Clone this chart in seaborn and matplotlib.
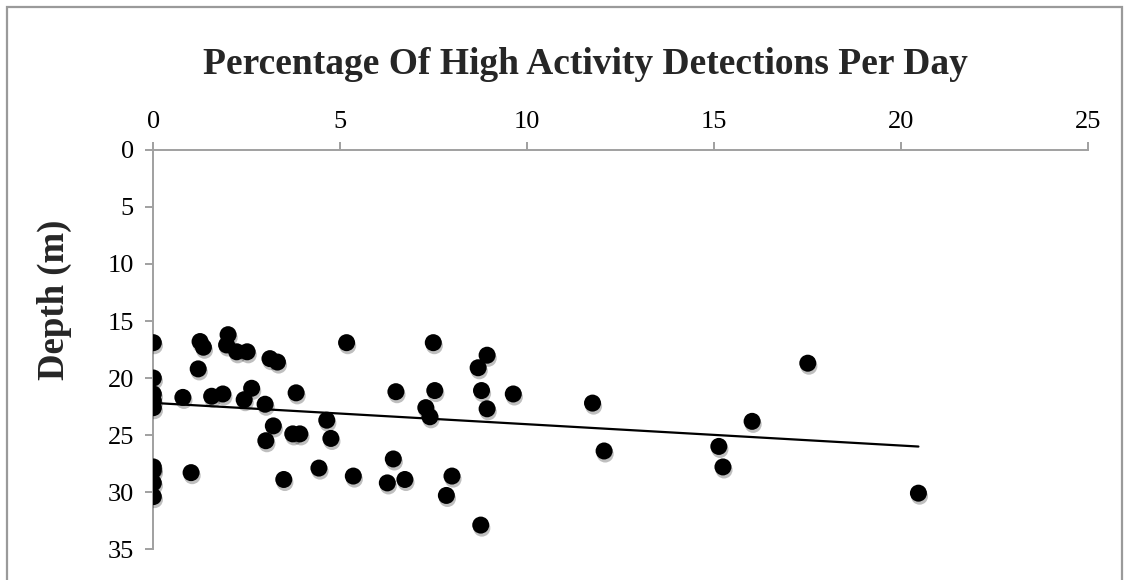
import matplotlib
matplotlib.use("Agg")
import matplotlib.pyplot as plt
import matplotlib.patheffects as pe
from matplotlib.patches import Rectangle
import numpy as np
import pandas as pd
import seaborn as sns

# Percentage of high-activity detections per day vs. depth
pct_high_activity = [
    0, 0, 0, 0, 0, 0, 0, 0, 0,
    1.25, 1.34, 2.0, 1.96, 2.23, 2.51, 3.12, 3.32, 5.17, 7.49,
    1.2, 0.79, 1.56, 1.86, 2.63, 2.43, 2.99, 3.82, 6.49, 7.53,
    7.29, 7.40, 4.64, 3.21, 3.73, 3.92, 4.75, 3.01,
    1.01, 3.49, 4.43, 5.35, 6.42, 6.26, 6.73,
    8.93, 8.69, 8.78, 9.63, 8.93, 11.75, 12.06, 16.02, 15.13, 15.24,
    7.99, 7.84, 8.76, 17.51, 20.47,
]
depth_m = [
    16.9, 20.0, 21.4, 22.0, 22.6, 27.8, 28.1, 29.2, 30.4,
    16.8, 17.3, 16.2, 17.1, 17.7, 17.7, 18.3, 18.6, 16.9, 16.9,
    19.2, 21.7, 21.6, 21.4, 20.9, 21.9, 22.3, 21.3, 21.2, 21.1,
    22.6, 23.4, 23.7, 24.2, 24.9, 24.9, 25.3, 25.5,
    28.3, 28.9, 27.9, 28.6, 27.1, 29.2, 28.9,
    18.0, 19.1, 21.1, 21.4, 22.7, 22.2, 26.4, 23.8, 26.0, 27.8,
    28.6, 30.3, 32.9, 18.7, 30.1,
]
x_ticks = [0, 5, 10, 15, 20, 25]
y_ticks = [0, 5, 10, 15, 20, 25, 30, 35]

title_text = "Percentage Of High Activity Detections Per Day"
ylabel_text = "Depth (m)"

df = pd.DataFrame({"pct": pct_high_activity, "depth": depth_m})

sns.set_theme(style="white")
plt.rcParams["font.family"] = ["Liberation Serif", "DejaVu Serif"]

fig = plt.figure(figsize=(11.3, 5.8), dpi=100)
ax = fig.add_axes([0.1357, 0.0534, 0.8269, 0.688])

# chart-area frame
fig.patches.append(Rectangle((7 / 1130, -0.05), 1115 / 1130, 1.05 - 7 / 580,
                             transform=fig.transFigure, fill=False,
                             edgecolor="#9a9a9a", linewidth=1.6, zorder=0))

sns.regplot(data=df, x="pct", y="depth", scatter=False, ci=None, ax=ax,
            line_kws={"color": "black", "linewidth": 1.6})
sns.scatterplot(data=df, x="pct", y="depth", ax=ax, color="black", s=150,
                edgecolor="black", linewidth=0, zorder=3,
                path_effects=[pe.SimplePatchShadow(offset=(0.8, -2.2), shadow_rgbFace="#000000",
                                                   alpha=0.25), pe.Normal()])

ax.set_xlim(0, 25)
ax.set_ylim(35, 0)
ax.set_xticks(x_ticks)
ax.set_yticks(y_ticks)
ax.xaxis.tick_top()

for side in ["right", "bottom"]:
    ax.spines[side].set_visible(False)
for side in ["left", "top"]:
    ax.spines[side].set_color("#a0a0a0")
    ax.spines[side].set_linewidth(1.4)

ax.tick_params(axis="both", which="major", direction="out", length=6, width=1.4,
               color="#a0a0a0", labelsize=19, labelcolor="black")
ax.tick_params(axis="x", top=True, bottom=False, labeltop=True, labelbottom=False, pad=6)
ax.tick_params(axis="y", left=True, pad=8)

ax.set_xlabel("")
ax.set_ylabel("")

fig.text(54 / 1130, 1 - 300 / 580, ylabel_text, rotation=90, ha="center", va="center",
         fontsize=26.5, fontweight="bold")
fig.text(0.518, 1 - 65 / 580, title_text, ha="center", va="center",
         fontsize=27, fontweight="bold")

fig.savefig("out.png", dpi=100)
